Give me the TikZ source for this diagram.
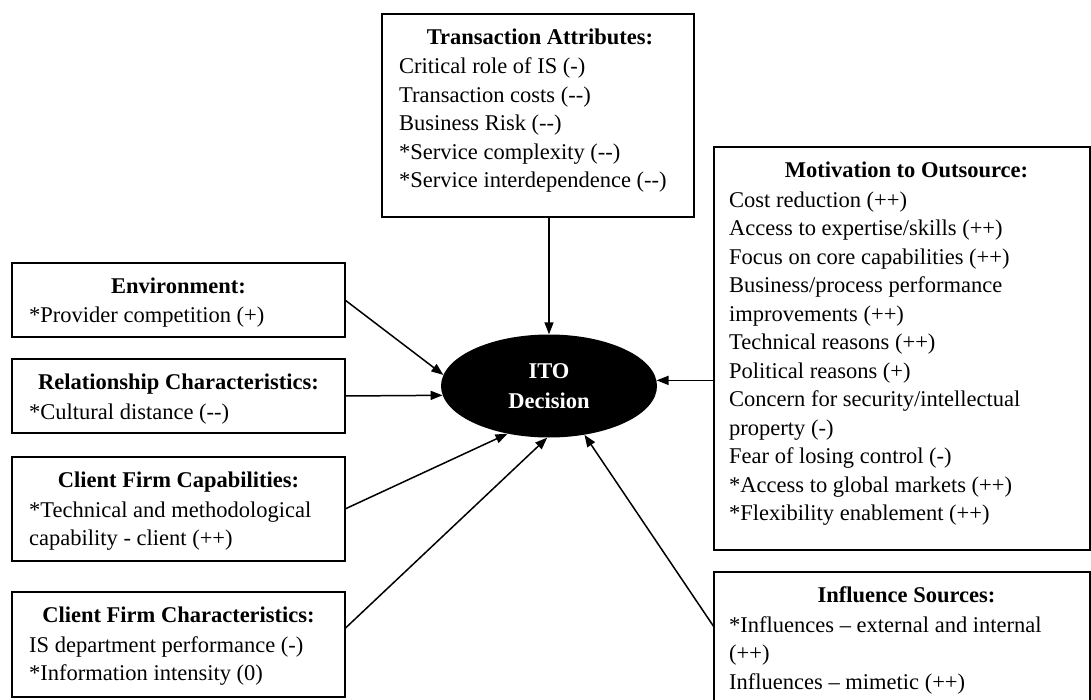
\documentclass[tikz,border=0pt]{standalone}
\usepackage{fontspec}
\setmainfont{Liberation Serif}
\usetikzlibrary{arrows.meta,shapes.geometric,calc}
\begin{document}
\begin{tikzpicture}[x=1pt,y=-1pt,
  box/.style={draw, line width=2pt, rectangle, inner sep=0pt, outer sep=0pt},
  head/.style={anchor=base, inner sep=0pt, font=\fontsize{22.5}{28.5}\selectfont\bfseries},
  body/.style={anchor=base west, inner sep=0pt, align=left, font=\fontsize{22.5}{28.5}\selectfont},
  conn/.style={line width=1.5pt, -{Triangle[length=12pt,width=9pt]}},
]
\useasboundingbox (0,0) rectangle (1091,700);
\clip (0,0) rectangle (1091,700);

% boxes
\node[box, minimum width=312pt, minimum height=203pt] (trans) at (538,115.5) {};
\node[box, minimum width=376pt, minimum height=403pt] (mot) at (902,348.5) {};
\node[box, minimum width=376pt, minimum height=140pt] (infl) at (902,642) {};
\node[box, minimum width=333pt, minimum height=74pt] (env) at (178.5,300) {};
\node[box, minimum width=333pt, minimum height=74pt] (rel) at (178.5,396) {};
\node[box, minimum width=333pt, minimum height=104pt] (cap) at (178.5,509) {};
\node[box, minimum width=333pt, minimum height=105pt] (char) at (178.5,644.5) {};

% central ellipse
\node[ellipse, fill=black, minimum width=216pt, minimum height=103pt, inner sep=0pt,
      text=white, align=center, font=\fontsize{22.5}{29.5}\selectfont\bfseries] (ito) at (549,386) {ITO\\Decision};

% texts (body nodes anchored at the baseline of their last line)
\node[head] (transH) at ($(trans.north)+(2,30.5)$) {Transaction Attributes:};
\node[body] (transB) at ($(trans.north west)+(17,174)$) {Critical role of IS (-)\\Transaction costs (-{}-)\\Business Risk (-{}-)\\*Service complexity (-{}-)\\*Service interdependence (-{}-)};

\node[head] (motH) at ($(mot.north)+(4.5,30.5)$) {Motivation to Outsource:};
\node[body] (motB) at ($(mot.north west)+(15,373.5)$) {Cost reduction (++)\\Access to expertise/skills (++)\\Focus on core capabilities (++)\\Business/process performance\\improvements (++)\\Technical reasons (++)\\Political reasons (+)\\Concern for security/intellectual\\property (-)\\Fear of losing control (-)\\*Access to global markets (++)\\*Flexibility enablement (++)};

\node[head] (inflH) at ($(infl.north)+(4.5,30.5)$) {Influence Sources:};
\node[body] (inflB) at ($(infl.north west)+(15,117)$) {*Influences – external and internal\\(++)\\Influences – mimetic (++)};

\node[head] (envH) at ($(env.north)+(0,30.5)$) {Environment:};
\node[body] (envB) at ($(env.north west)+(17,60)$) {*Provider competition (+)};

\node[head] (relH) at ($(rel.north)+(0,30.5)$) {Relationship Characteristics:};
\node[body] (relB) at ($(rel.north west)+(17,60)$) {*Cultural distance (-{}-)};

\node[head] (capH) at ($(cap.north)+(0,30.5)$) {Client Firm Capabilities:};
\node[body] (capB) at ($(cap.north west)+(17,88.5)$) {*Technical and methodological\\capability - client (++)};

\node[head] (charH) at ($(char.north)+(0,30.5)$) {Client Firm Characteristics:};
\node[body] (charB) at ($(char.north west)+(17,88.5)$) {IS department performance (-)\\*Information intensity (0)};

% connectors
\coordinate (charOut) at ($(char.east)+(0,-16)$);
\coordinate (inflOut) at ($(infl.north west)+(0,55)$);
\draw[conn] (trans.south -| ito.north) -- (ito.north);
\draw[conn] (mot.west |- ito.3) -- (ito.3);
\draw[conn] (env.east) -- (ito.174);
\draw[conn] (rel.east) -- (ito.185);
\draw[conn] (cap.east) -- (ito.229);
\draw[conn] (charOut) -- (ito.268);
\draw[conn] (inflOut) -- (ito.306);
\end{tikzpicture}
\end{document}
